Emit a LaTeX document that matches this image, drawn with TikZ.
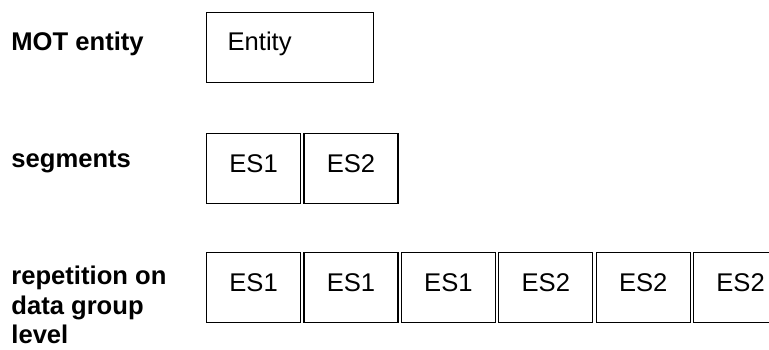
\documentclass[tikz,border=0pt]{standalone}
\usepackage{fontspec}
\setmainfont{Liberation Sans}
\usepackage{tikz}
\usetikzlibrary{positioning}

\begin{document}
\begin{tikzpicture}[
    x=0.5pt, y=-0.5pt,
    node distance=1.1pt,
    font=\fontsize{12.8}{15}\selectfont,
    rowlabel/.style={anchor=base west, inner sep=0pt, font=\fontsize{12.8}{14.6}\selectfont\bfseries},
    segbox/.style={rectangle, draw=black, line width=0.6pt, inner sep=0pt, minimum width=47pt, text height=19.5pt, text depth=15.5pt},
    entbox/.style={rectangle, draw=black, line width=0.6pt, inner xsep=10.5pt, inner ysep=0pt, text width=62.5pt, align=left, text height=19pt, text depth=16pt}
]
\useasboundingbox (0,0) rectangle (769,349);
\clip (0,0) rectangle (769,349);

% row labels
\node[rowlabel] (lblent) at (11,50) {MOT entity};
\node[rowlabel] (lblseg) at (11,167) {segments};
\node[rowlabel, anchor=north west, align=left] (lblrep) at (11,266) {repetition on\\data group\\level};

% MOT entity
\node[entbox, anchor=north west] (ent) at (206,12) {Entity};

% segments
\node[segbox, anchor=north west] (sa) at (206,133) {ES1};
\node[segbox, right=of sa] (sb) {ES2};

% repetition on data group level
\node[segbox, anchor=north west] (r1) at (206,252) {ES1};
\node[segbox, right=of r1] (r2) {ES1};
\node[segbox, right=of r2] (r3) {ES1};
\node[segbox, right=of r3] (r4) {ES2};
\node[segbox, right=of r4] (r5) {ES2};
\node[segbox, right=of r5] (r6) {ES2};
\end{tikzpicture}
\end{document}
